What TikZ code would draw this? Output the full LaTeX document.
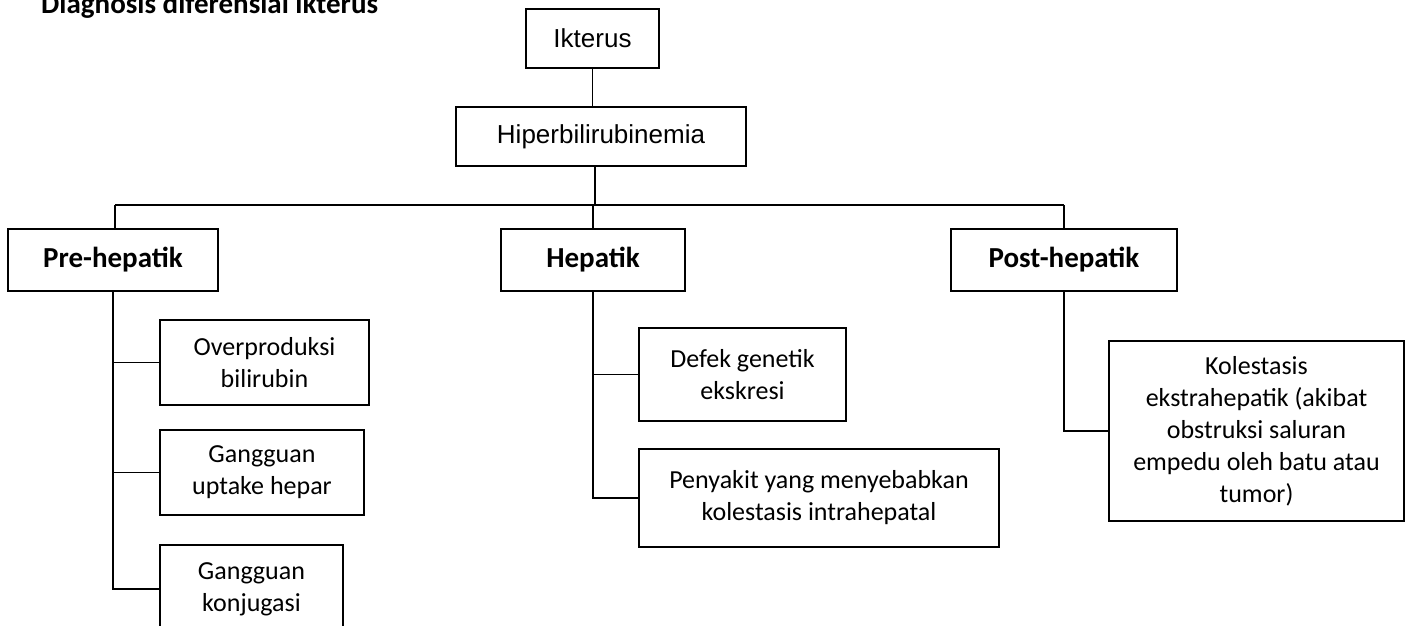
\documentclass[tikz,border=0pt]{standalone}
\usepackage{fontspec}
\setmainfont{Carlito}
\newfontfamily\arialf{Liberation Sans}
\begin{document}
\begin{tikzpicture}[x=1pt,y=-1pt,
  box/.style={draw=black,line width=1.6pt,inner sep=0pt,align=center,font=\fontsize{26}{32}\selectfont},
  topbox/.style={box,font=\arialf\fontsize{26}{32}\selectfont},
  headbox/.style={box,font=\bfseries\fontsize{29}{34}\selectfont},
  link/.style={draw=black,line width=1.5pt}]
\useasboundingbox (0,0) rectangle (1408,626);
\fill[white] (0,0) rectangle (1408,626);
\node[anchor=base west,font=\bfseries\fontsize{29}{34}\selectfont,inner sep=0pt] (title) at (41,14) {Diagnosis diferensial ikterus};
\node[topbox,minimum width=133pt,minimum height=59pt] (ik) at (592.5,38.5) {Ikterus};
\node[topbox,minimum width=290pt,minimum height=59pt] (hb) at (601,136.5) {Hiperbilirubinemia};
\node[headbox,minimum width=210pt,minimum height=62pt] (pre) at (113,260) {Pre-hepatik};
\node[headbox,minimum width=184pt,minimum height=62pt] (hep) at (593,260) {Hepatik};
\node[headbox,minimum width=226pt,minimum height=62pt] (post) at (1064,260) {Post-hepatik};
\node[box,minimum width=209pt,minimum height=85pt] (ov) at (264.5,362.5) {Overproduksi\\bilirubin};
\node[box,minimum width=204pt,minimum height=85pt] (up) at (262,472.5) {Gangguan\\uptake hepar};
\node[box,minimum width=183pt,minimum height=88pt] (konj) at (251.5,589) {Gangguan\\konjugasi};
\node[box,minimum width=207pt,minimum height=93pt] (def) at (742.5,374.5) {Defek genetik\\ekskresi};
\node[box,minimum width=360pt,minimum height=98pt] (pen) at (819,498) {Penyakit yang menyebabkan\\kolestasis intrahepatal};
\node[box,minimum width=295pt,minimum height=180pt] (kol) at (1256.5,431) {Kolestasis\\ekstrahepatik (akibat\\obstruksi saluran\\empedu oleh batu atau\\tumor)};
\coordinate (busL) at (115,205);
\coordinate (busR) at (1064,205);
\draw[link] (ik.south) -- (ik.south |- hb.north);
\draw[link] ([xshift=-6pt]hb.south) -- ([xshift=-6pt]hb.south |- busL);
\draw[link] (busL) -- (busR);
\draw[link] (busL) -- (pre.north -| busL);
\draw[link] (hep.north |- busL) -- (hep.north);
\draw[link] (busR) -- (post.north);
\draw[link] (pre.south) -- (pre.south |- konj.west) -- (konj.west);
\draw[link] (pre.south |- ov.west) -- (ov.west);
\draw[link] (pre.south |- up.west) -- (up.west);
\draw[link] (hep.south) -- (hep.south |- pen.west) -- (pen.west);
\draw[link] (hep.south |- def.west) -- (def.west);
\draw[link] (post.south) -- (post.south |- kol.west) -- (kol.west);
\end{tikzpicture}
\end{document}
